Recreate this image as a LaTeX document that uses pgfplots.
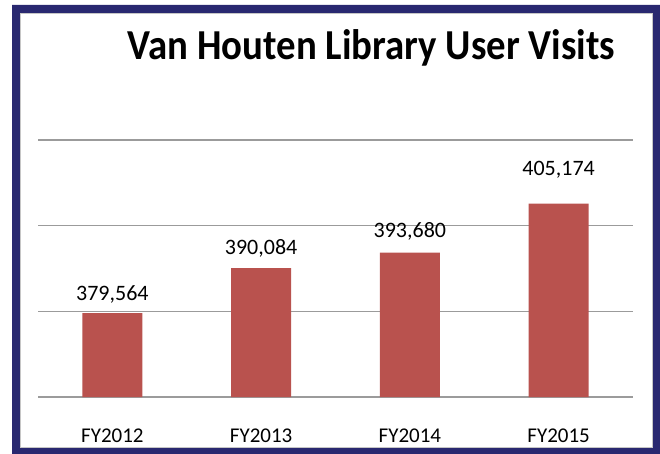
\documentclass[border=0pt]{standalone}
\usepackage{fontspec}
\setmainfont{Carlito}
\usepackage{pgfplots}
\usepackage{pgfplotstable}
\pgfplotsset{compat=1.18}

\definecolor{framenavy}{RGB}{41,40,112}
\definecolor{barred}{RGB}{185,82,78}
\definecolor{gridgray}{RGB}{155,155,155}

% visits per fiscal year; off = gap from bar top to label baseline
\pgfplotstableread{
x y off
0 379564 13
1 390084 14
2 393680 15
3 405174 28
}\visits

\begin{document}
\begin{tikzpicture}[x=1pt,y=1pt]
\useasboundingbox (0,0) rectangle (660,453);
% frame
\fill[framenavy,even odd rule] (12,448) rectangle (668,-6) (20,440) rectangle (653,5);
\draw[gray!45,line width=1pt] (20.5,439.5) rectangle (652.5,5.5);

\node[anchor=base,font=\fontsize{38.8}{44}\selectfont\bfseries] at (371.5,393) {\scalebox{1}[1.1]{Van Houten Library User Visits}};

\begin{axis}[
    at={(38pt,56pt)}, anchor=south west,
    scale only axis,
    width=595pt, height=257pt,
    ybar, bar width=60pt,
    xmin=-0.5, xmax=3.5,
    ymin=360000, ymax=420000,
    xtick={0,1,2,3},
    xticklabels={FY2012, FY2013, FY2014, FY2015},
    ytick={360000,380000,400000,420000},
    yticklabels={},
    scaled y ticks=false,
    ymajorgrids,
    grid style={gridgray, line width=1.2pt},
    axis line style={draw=none},
    tick style={draw=none},
    xticklabel style={font=\fontsize{21}{24}\selectfont, anchor=base, yshift=-41pt},
]
\addplot[fill=barred, draw=none,
    visualization depends on={\thisrow{off}\as\myoff},
    nodes near coords={\pgfmathprintnumber[fixed,precision=0,1000 sep={,},assume math mode=true]{\pgfplotspointmeta}},
    every node near coord/.append style={anchor=base, yshift=\myoff, inner sep=0pt, font=\fontsize{22}{25}\selectfont, text=black},
] table[x=x, y=y] {\visits};
\end{axis}
\end{tikzpicture}
\end{document}
